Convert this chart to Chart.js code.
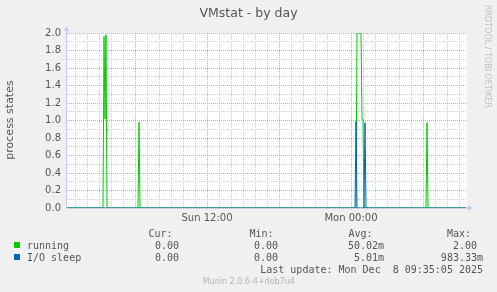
<!DOCTYPE html>
<html>
<head>
<meta charset="utf-8">
<title>VMstat - by day</title>
<script src="https://cdn.jsdelivr.net/npm/chart.js@4/dist/chart.umd.min.js"></script>
<style>
  html, body { margin: 0; padding: 0; background: #f0f0f0; }
  canvas { display: block; }
</style>
</head>
<body>
<canvas id="chart" width="497" height="292"></canvas>
<script>
// sample times are minutes after Sun 00:00 (5 minute steps)
const runningTimes  = [20, 200, 205, 210, 215, 220, 225, 375, 380, 385, 1465, 1470, 1490, 1495, 1500, 1505, 1815, 1820, 1825, 2015];
const runningValues = [0, 0, 1.96, 1.02, 1.98, 0.02, 0, 0, 0.98, 0, 0, 2.0, 2.0, 1.02, 1.0, 0, 0, 0.975, 0, 0];

const ioSleepTimes  = [20, 1460, 1465, 1470, 1505, 1510, 1515, 2015];
const ioSleepValues = [0, 0, 0.99, 0, 0, 0.975, 0, 0];

const xLabelMinutes = [720, 1440];
const xLabelTexts = ["Sun 12:00", "Mon 00:00"];

const seriesLabels = ["running", "I/O sleep"];
const curValues = ["0.00", "0.00"];
const minValues = ["0.00", "0.00"];
const avgValues = ["50.02m", "5.01m"];
const maxValues = ["2.00", "983.33m"];

const chartTitle = "VMstat - by day";
const yTitle = "process states";
const lastUpdate = "Last update: Mon Dec  8 09:35:05 2025";
const footer = "Munin 2.0.6-4+deb7u4";
const sideNote = "RRDTOOL / TOBI OETIKER";

const colors = ["#00cc00", "#0066b3"];
const textColor = "#555555";
const minorGrid = "#cccccc";
const majorGrid = "#f09c9c";
const axisColor = "#c4c8ee";

function toPoints(times, values) {
  return times.map((t, i) => ({ x: t, y: values[i] }));
}

// pad plain numbers with a space so they line up with the ones carrying a suffix
function cell(v) {
  return /[a-z]$/i.test(v) ? v : v + " ";
}

// red grid every 6 hours / every 0.2, grey in between
function isMajorX(c) {
  return c.tick !== undefined && Math.round(c.tick.value) % 360 === 0;
}

function isMajorY(c) {
  return c.tick !== undefined && Math.round(c.tick.value * 10) % 2 === 0;
}

const muninDecor = {
  id: "muninDecor",
  beforeDraw(chart) {
    const { ctx, chartArea: a } = chart;
    ctx.save();
    ctx.fillStyle = "#f0f0f0";
    ctx.fillRect(0, 0, chart.width, chart.height);
    ctx.fillStyle = "#ffffff";
    ctx.fillRect(a.left, a.top, a.right - a.left, a.bottom - a.top);
    ctx.restore();
  },
  beforeDatasetsDraw(chart) {
    const { ctx, chartArea: a } = chart;
    ctx.save();
    ctx.strokeStyle = axisColor;
    ctx.fillStyle = axisColor;
    ctx.lineWidth = 1;
    ctx.beginPath();
    ctx.moveTo(a.left - 0.5, a.bottom);
    ctx.lineTo(a.left - 0.5, a.top - 3);
    ctx.moveTo(a.left, a.bottom);
    ctx.lineTo(a.right + 2, a.bottom);
    ctx.stroke();
    // arrow heads
    ctx.beginPath();
    ctx.moveTo(a.left - 3, a.top - 2);
    ctx.lineTo(a.left + 2, a.top - 2);
    ctx.lineTo(a.left - 0.5, a.top - 7);
    ctx.closePath();
    ctx.fill();
    ctx.beginPath();
    ctx.moveTo(a.right + 1, a.bottom - 2.5);
    ctx.lineTo(a.right + 1, a.bottom + 2.5);
    ctx.lineTo(a.right + 6, a.bottom);
    ctx.closePath();
    ctx.fill();
    ctx.restore();
  },
  afterDraw(chart) {
    const ctx = chart.ctx;
    ctx.save();
    ctx.fillStyle = textColor;
    ctx.textBaseline = "alphabetic";

    ctx.font = "12.5px 'DejaVu Sans'";
    ctx.textAlign = "center";
    ctx.fillText(chartTitle, 248.5, 17);

    ctx.save();
    ctx.translate(13, 120);
    ctx.rotate(-Math.PI / 2);
    ctx.font = "11px 'DejaVu Sans'";
    ctx.fillText(yTitle, 0, 0);
    ctx.restore();

    ctx.save();
    ctx.translate(485, 5);
    ctx.rotate(Math.PI / 2);
    ctx.fillStyle = "#c0c0c0";
    ctx.font = "8px 'DejaVu Sans'";
    ctx.textAlign = "left";
    ctx.fillText(sideNote, 0, 0);
    ctx.restore();

    // legend table
    ctx.font = "10px 'DejaVu Sans Mono'";
    ctx.textAlign = "left";
    ctx.fillText("Cur:", 148.5, 237);
    ctx.fillText("Min:", 249.5, 237);
    ctx.fillText("Avg:", 348.5, 237);
    ctx.fillText("Max:", 447, 237);

    seriesLabels.forEach((name, i) => {
      const y = 249 + i * 12;
      ctx.fillStyle = colors[i];
      ctx.fillRect(14, y - 7, 6, 6);
      ctx.fillStyle = textColor;
      ctx.textAlign = "left";
      ctx.fillText(name, 27, y);
      ctx.textAlign = "right";
      ctx.fillText(cell(curValues[i]), 185, y);
      ctx.fillText(cell(minValues[i]), 284, y);
      ctx.fillText(cell(avgValues[i]), 384, y);
      ctx.fillText(cell(maxValues[i]), 483, y);
    });

    ctx.textAlign = "right";
    ctx.fillText(lastUpdate, 483, 273);

    ctx.font = "8px 'DejaVu Sans'";
    ctx.fillStyle = "#b4b4b4";
    ctx.textAlign = "center";
    ctx.fillText(footer, 248.8, 284);
    ctx.restore();
  }
};

const ctx = document.getElementById("chart").getContext("2d");

new Chart(ctx, {
  type: "line",
  data: {
    datasets: [{
      label: seriesLabels[0],
      data: toPoints(runningTimes, runningValues),
      borderColor: colors[0],
      borderWidth: 1,
      pointRadius: 0,
      tension: 0,
      fill: false,
      order: 1
    }, {
      label: seriesLabels[1],
      data: toPoints(ioSleepTimes, ioSleepValues),
      borderColor: colors[1],
      borderWidth: 1,
      pointRadius: 0,
      tension: 0,
      fill: false,
      order: 0
    }]
  },
  options: {
    responsive: false,
    animation: false,
    devicePixelRatio: 1,
    layout: { padding: { left: 0, top: 33, right: 30, bottom: 64 } },
    plugins: {
      legend: { display: false },
      title: { display: false },
      tooltip: { enabled: false }
    },
    scales: {
      x: {
        type: "linear",
        min: 20,
        max: 2020,
        afterFit: scale => { scale.height = 20; },
        grid: {
          drawTicks: false,
          color: c => isMajorX(c) ? majorGrid : minorGrid
        },
        border: { display: false, dash: [1, 1] },
        ticks: {
          stepSize: 60,
          includeBounds: false,
          autoSkip: false,
          maxRotation: 0,
          minRotation: 0,
          padding: 4,
          color: textColor,
          font: { family: "DejaVu Sans", size: 10 },
          callback: v => {
            const i = xLabelMinutes.indexOf(v);
            return i < 0 ? "" : xLabelTexts[i];
          }
        }
      },
      y: {
        min: 0,
        max: 2,
        afterFit: scale => { scale.width = 67; },
        grid: {
          drawTicks: false,
          color: c => isMajorY(c) ? majorGrid : minorGrid
        },
        border: { display: false, dash: [1, 1] },
        ticks: {
          stepSize: 0.1,
          autoSkip: false,
          padding: 6,
          color: textColor,
          font: { family: "DejaVu Sans", size: 10 },
          callback: v => Math.round(v * 10) % 2 === 0 ? v.toFixed(1) : ""
        }
      }
    }
  },
  plugins: [muninDecor]
});
</script>
</body>
</html>
